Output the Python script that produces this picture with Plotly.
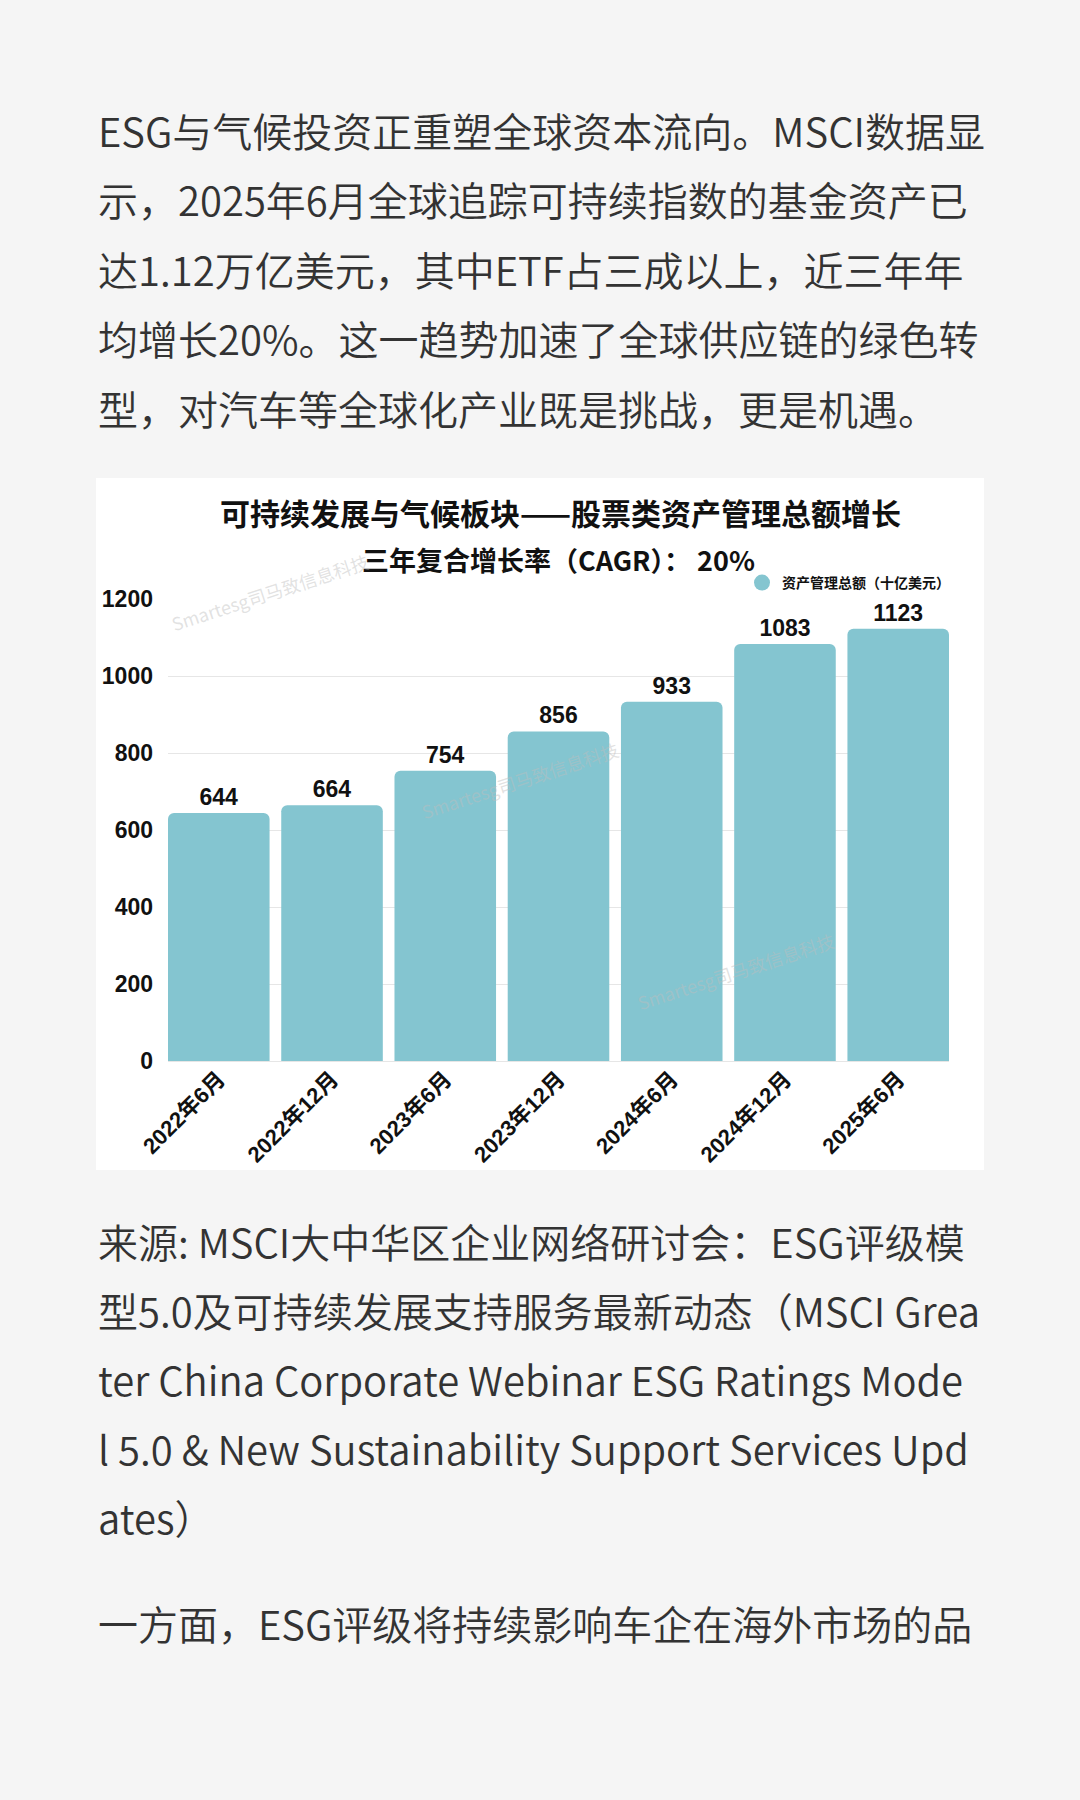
import plotly.graph_objects as go

# ---------------- data ----------------
categories = ["2022年6月", "2022年12月", "2023年6月", "2023年12月",
              "2024年6月", "2024年12月", "2025年6月"]
aum = [644, 664, 754, 856, 933, 1083, 1123]
y_ticks = [0, 200, 400, 600, 800, 1000, 1200]
series_name = "资产管理总额（十亿美元）"
title_text = "可持续发展与气候板块——股票类资产管理总额增长"
subtitle_text = "三年复合增长率（CAGR）： 20%"
watermark_text = "Smartesg司马致信息科技"

intro_lines = [
    "ESG与气候投资正重塑全球资本流向。MSCI数据显",
    "示，2025年6月全球追踪可持续指数的基金资产已",
    "达1.12万亿美元，其中ETF占三成以上，近三年年",
    "均增长20%。这一趋势加速了全球供应链的绿色转",
    "型，对汽车等全球化产业既是挑战，更是机遇。",
]
source_lines = [
    "来源: MSCI大中华区企业网络研讨会：ESG评级模",
    "型5.0及可持续发展支持服务最新动态（MSCI Grea",
    "ter China Corporate Webinar ESG Ratings Mode",
    "l 5.0 &amp; New Sustainability Support Services Upd",
    "ates）",
]
next_lines = ["一方面，ESG评级将持续影响车企在海外市场的品"]

# ---------------- layout helpers ----------------
FIG_W, FIG_H = 1080, 1800
L, R, T, B = 168, 131, 599, 739
PW = FIG_W - L - R
PH = FIG_H - T - B


def px(x):
    return (x - L) / PW


def py(y):
    return 1 - (y - T) / PH


BAR_COLOR = "#84C5D0"
BODY_FONT = "Noto Sans CJK SC"
CHART_FONT = "Liberation Sans, Noto Sans CJK SC"
BARGAP = 0.103

fig = go.Figure()

fig.add_trace(go.Bar(
    x=categories,
    y=aum,
    name=series_name,
    marker=dict(color=BAR_COLOR, cornerradius=6, line=dict(width=0)),
    text=aum,
    texttemplate="%{text}",
    textposition="outside",
    constraintext="none",
    cliponaxis=False,
    textfont=dict(family=CHART_FONT, size=23, color="#111111", weight="bold"),
    showlegend=False,
    hoverinfo="x+y",
))

# legend entry (circle marker like the reference)
fig.add_trace(go.Scatter(
    x=[None], y=[None], mode="markers", name=series_name,
    marker=dict(size=18, color=BAR_COLOR, symbol="circle"),
    showlegend=True,
))

annotations = []

# chart title & subtitle
annotations.append(dict(
    text=title_text, xref="paper", yref="paper", x=px(560), y=py(512),
    xanchor="center", yanchor="middle", showarrow=False,
    font=dict(family=BODY_FONT, size=30, color="#111111", weight="bold"),
))
annotations.append(dict(
    text=subtitle_text, xref="paper", yref="paper", x=px(558), y=py(559),
    xanchor="center", yanchor="middle", showarrow=False,
    font=dict(family=BODY_FONT, size=27, color="#111111", weight="bold"),
))

# watermarks
for (cx, cy) in [(270, 592), (520, 780), (736, 971)]:
    annotations.append(dict(
        text=watermark_text, xref="paper", yref="paper", x=px(cx), y=py(cy),
        xanchor="center", yanchor="middle", showarrow=False, textangle=-18,
        font=dict(family=BODY_FONT, size=18, color="rgba(190,190,190,0.45)"),
    ))

# body text
def add_lines(lines, y0, step):
    for i, line in enumerate(lines):
        annotations.append(dict(
            text=line, xref="paper", yref="paper", x=px(96), y=py(y0 + i * step),
            xanchor="left", yanchor="middle", showarrow=False, align="left",
            font=dict(family=BODY_FONT, size=40, color="#333333", weight=350),
        ))


add_lines(intro_lines, 130, 69.4)
add_lines(source_lines, 1241, 68.9)
add_lines(next_lines, 1623, 69)

fig.update_layout(
    width=FIG_W, height=FIG_H,
    margin=dict(l=L, r=R, t=T, b=B, pad=0),
    paper_bgcolor="#F5F5F5",
    plot_bgcolor="#FFFFFF",
    bargap=BARGAP,
    showlegend=True,
    legend=dict(
        x=px(742), y=py(583), xanchor="left", yanchor="middle",
        bgcolor="rgba(0,0,0,0)", borderwidth=0,
        font=dict(family=BODY_FONT, size=14, color="#111111", weight="bold"),
        itemclick=False, itemdoubleclick=False,
    ),
    shapes=[dict(
        type="rect", xref="paper", yref="paper", layer="below",
        x0=px(96), x1=px(984), y0=py(1170), y1=py(478),
        fillcolor="#FFFFFF", line=dict(width=0),
    )],
    annotations=annotations,
    xaxis=dict(
        type="category",
        range=[-0.5 + BARGAP / 2, len(categories) - 0.5 - BARGAP / 2],
        tickangle=-45,
        tickfont=dict(family=CHART_FONT, size=22, color="#111111", weight="bold"),
        showgrid=False, zeroline=False, showline=False, ticks="",
        fixedrange=True,
    ),
    yaxis=dict(
        range=[0, 1200],
        tickmode="array", tickvals=y_ticks, ticktext=[str(v) for v in y_ticks],
        tickfont=dict(family=CHART_FONT, size=23, color="#111111", weight="bold"),
        showgrid=True, gridcolor="#E6E6E6", gridwidth=1,
        zeroline=True, zerolinecolor="#E6E6E6", zerolinewidth=1,
        showline=False, ticks="", ticklabelstandoff=14,
        fixedrange=True,
    ),
)

fig.write_html("out.html")
